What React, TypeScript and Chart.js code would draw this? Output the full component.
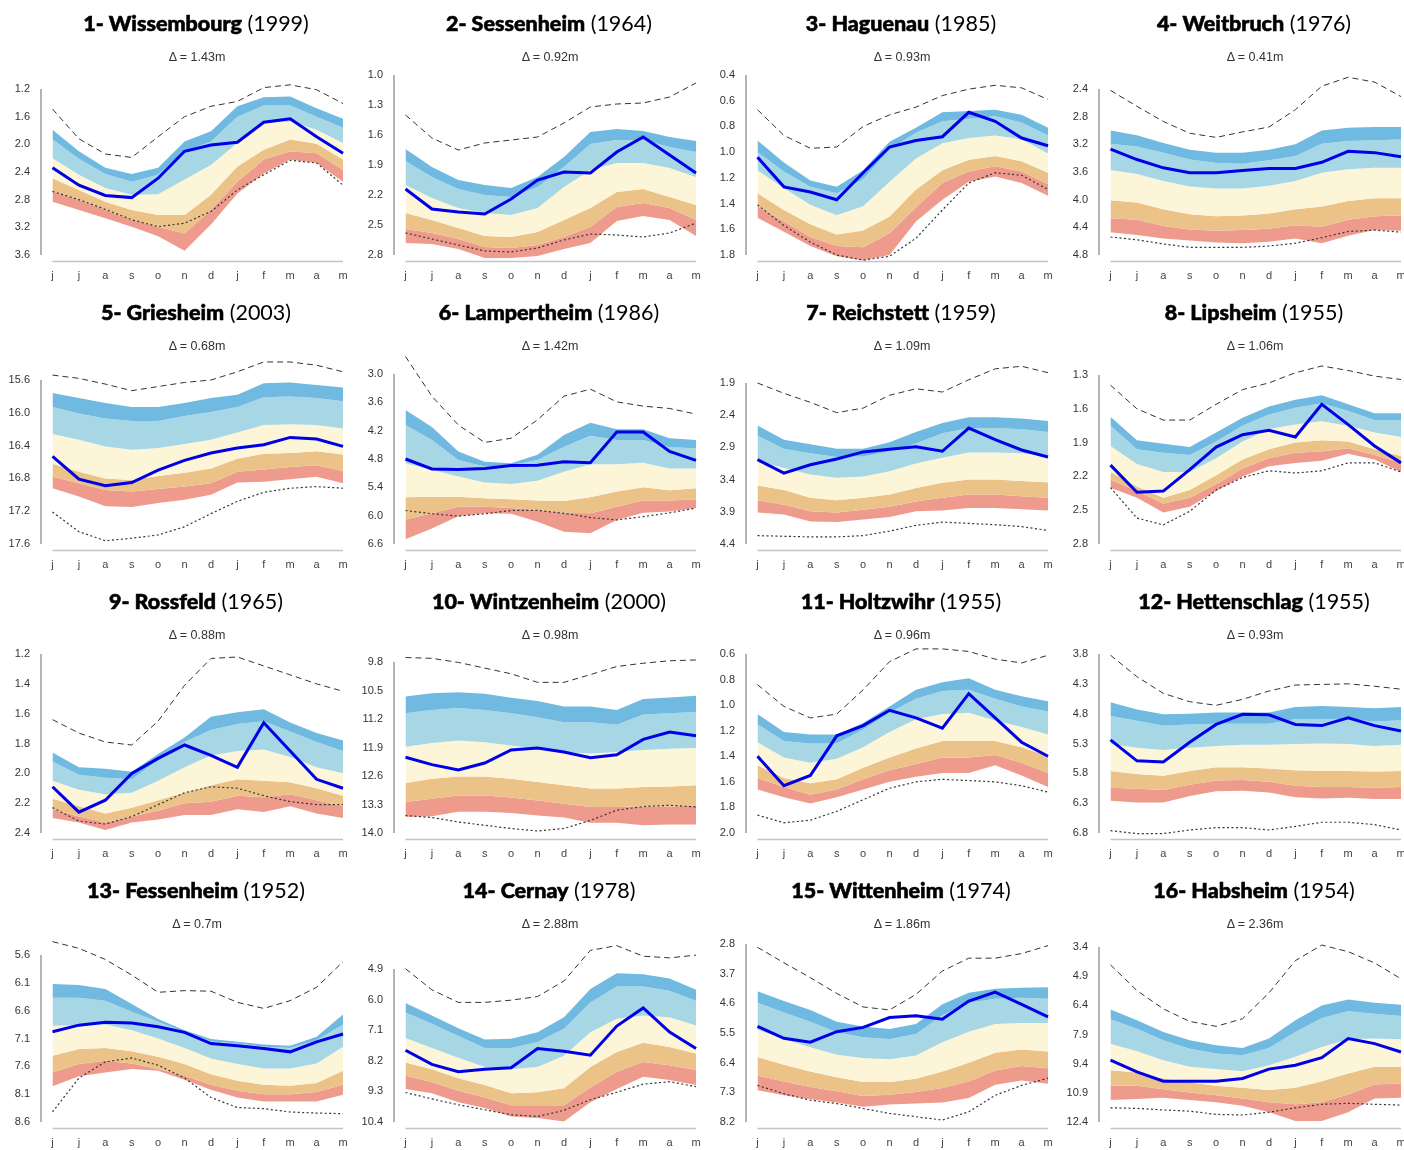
import React, { useEffect, useRef } from "react";
import { Chart, registerables } from "chart.js";

Chart.register(...registerables);

// ---------- labels ----------
const months = ["j", "j", "a", "s", "o", "n", "d", "j", "f", "m", "a", "m"];
const stations = [
  "1- Wissembourg", "2- Sessenheim", "3- Haguenau", "4- Weitbruch",
  "5- Griesheim", "6- Lampertheim", "7- Reichstett", "8- Lipsheim",
  "9- Rossfeld", "10- Wintzenheim", "11- Holtzwihr", "12- Hettenschlag",
  "13- Fessenheim", "14- Cernay", "15- Wittenheim", "16- Habsheim",
];
const years = ["(1999)", "(1964)", "(1985)", "(1976)", "(2003)", "(1986)", "(1959)", "(1955)",
  "(1965)", "(2000)", "(1955)", "(1955)", "(1952)", "(1978)", "(1974)", "(1954)"];
const deltas = ["1.43m", "0.92m", "0.93m", "0.41m", "0.68m", "1.42m", "1.09m", "1.06m",
  "0.88m", "0.98m", "0.96m", "0.93m", "0.7m", "2.88m", "1.86m", "2.36m"];

// ---------- y tick labels (depth, m) ----------
const yFirstTick = [1.2, 1.0, 0.4, 2.4, 15.6, 3.0, 1.9, 1.3, 1.2, 9.8, 0.6, 3.8, 5.6, 4.9, 2.8, 3.4];
const yLastTick = [3.6, 2.8, 1.8, 4.8, 17.6, 6.6, 4.4, 2.8, 2.4, 14.0, 2.0, 6.8, 8.6, 10.4, 8.2, 12.4];
const yTickStep = [0.4, 0.3, 0.2, 0.4, 0.4, 0.6, 0.5, 0.3, 0.2, 0.7, 0.2, 0.5, 0.5, 1.1, 0.9, 1.5];

// ---------- data: bands = 6 boundaries (top -> bottom), line = year, max / min ----------
const wissembourgBands = [
  [1.79, 2.10, 2.34, 2.43, 2.34, 1.96, 1.81, 1.45, 1.32, 1.31, 1.48, 1.63],
  [1.93, 2.21, 2.43, 2.54, 2.44, 2.10, 1.96, 1.60, 1.44, 1.44, 1.60, 1.76],
  [2.20, 2.44, 2.63, 2.73, 2.72, 2.51, 2.30, 1.98, 1.69, 1.67, 1.79, 1.98],
  [2.49, 2.66, 2.83, 2.95, 3.02, 3.02, 2.73, 2.32, 2.08, 1.93, 1.99, 2.22],
  [2.68, 2.80, 2.95, 3.09, 3.19, 3.29, 2.95, 2.54, 2.22, 2.10, 2.13, 2.37],
  [2.83, 2.95, 3.07, 3.19, 3.33, 3.54, 3.16, 2.71, 2.42, 2.22, 2.27, 2.54],
];
const wissembourgLine = [2.34, 2.59, 2.74, 2.77, 2.49, 2.10, 2.01, 1.97, 1.68, 1.63, 1.89, 2.13];
const wissembourgMax = [1.49, 1.92, 2.14, 2.19, 1.89, 1.60, 1.45, 1.38, 1.18, 1.14, 1.21, 1.41];
const wissembourgMin = [2.68, 2.80, 2.94, 3.09, 3.19, 3.14, 2.97, 2.66, 2.44, 2.23, 2.27, 2.59];

const sessenheimBands = [
  [1.74, 1.92, 2.05, 2.10, 2.13, 2.02, 1.82, 1.57, 1.54, 1.56, 1.62, 1.66],
  [1.86, 2.02, 2.14, 2.20, 2.22, 2.12, 1.92, 1.69, 1.65, 1.65, 1.72, 1.77],
  [2.10, 2.23, 2.33, 2.38, 2.40, 2.33, 2.12, 1.95, 1.88, 1.88, 1.93, 2.02],
  [2.38, 2.45, 2.53, 2.61, 2.62, 2.57, 2.45, 2.33, 2.17, 2.14, 2.22, 2.30],
  [2.54, 2.58, 2.64, 2.72, 2.73, 2.70, 2.62, 2.52, 2.32, 2.28, 2.33, 2.45],
  [2.68, 2.69, 2.74, 2.83, 2.83, 2.81, 2.74, 2.68, 2.46, 2.41, 2.45, 2.61],
];
const sessenheimLine = [2.14, 2.34, 2.37, 2.39, 2.24, 2.05, 1.97, 1.98, 1.77, 1.62, 1.80, 1.98];
const sessenheimMax = [1.40, 1.63, 1.75, 1.68, 1.65, 1.62, 1.48, 1.32, 1.29, 1.28, 1.22, 1.08];
const sessenheimMin = [2.58, 2.64, 2.70, 2.76, 2.77, 2.73, 2.65, 2.59, 2.60, 2.62, 2.58, 2.48];

const haguenauBands = [
  [0.91, 1.08, 1.22, 1.27, 1.14, 0.92, 0.81, 0.69, 0.68, 0.67, 0.71, 0.81],
  [1.00, 1.15, 1.27, 1.32, 1.21, 0.98, 0.85, 0.76, 0.74, 0.72, 0.77, 0.87],
  [1.14, 1.28, 1.41, 1.49, 1.42, 1.23, 1.05, 0.93, 0.89, 0.87, 0.90, 1.01],
  [1.32, 1.45, 1.56, 1.64, 1.61, 1.50, 1.29, 1.14, 1.06, 1.03, 1.07, 1.16],
  [1.42, 1.54, 1.66, 1.73, 1.74, 1.63, 1.43, 1.24, 1.15, 1.11, 1.15, 1.25],
  [1.51, 1.62, 1.73, 1.81, 1.84, 1.80, 1.54, 1.37, 1.23, 1.19, 1.24, 1.34],
];
const haguenauLine = [1.04, 1.27, 1.31, 1.37, 1.16, 0.96, 0.91, 0.88, 0.69, 0.76, 0.89, 0.95];
const haguenauMax = [0.67, 0.87, 0.97, 0.96, 0.80, 0.71, 0.65, 0.56, 0.51, 0.48, 0.50, 0.59];
const haguenauMin = [1.41, 1.57, 1.70, 1.80, 1.84, 1.81, 1.67, 1.45, 1.24, 1.16, 1.18, 1.29];

const weitbruchBands = [
  [3.00, 3.07, 3.18, 3.28, 3.32, 3.32, 3.28, 3.20, 3.00, 2.96, 2.95, 2.95],
  [3.19, 3.23, 3.32, 3.42, 3.47, 3.48, 3.43, 3.37, 3.19, 3.15, 3.14, 3.13],
  [3.57, 3.63, 3.73, 3.81, 3.84, 3.84, 3.80, 3.73, 3.61, 3.56, 3.54, 3.54],
  [4.01, 4.04, 4.14, 4.21, 4.24, 4.23, 4.20, 4.14, 4.10, 4.02, 3.98, 3.98],
  [4.27, 4.29, 4.38, 4.43, 4.45, 4.44, 4.42, 4.37, 4.39, 4.29, 4.24, 4.23],
  [4.47, 4.51, 4.56, 4.59, 4.62, 4.63, 4.61, 4.56, 4.63, 4.52, 4.44, 4.45],
];
const weitbruchLine = [3.27, 3.42, 3.54, 3.61, 3.61, 3.58, 3.55, 3.55, 3.46, 3.30, 3.32, 3.38];
const weitbruchMax = [2.42, 2.65, 2.87, 3.04, 3.10, 3.02, 2.95, 2.70, 2.36, 2.23, 2.30, 2.51];
const weitbruchMin = [4.54, 4.58, 4.64, 4.69, 4.69, 4.69, 4.67, 4.63, 4.55, 4.46, 4.44, 4.47];

const griesheimBands = [
  [15.76, 15.82, 15.88, 15.93, 15.93, 15.88, 15.82, 15.78, 15.64, 15.63, 15.66, 15.69],
  [15.93, 16.01, 16.07, 16.10, 16.10, 16.04, 15.99, 15.93, 15.81, 15.80, 15.82, 15.86],
  [16.26, 16.33, 16.41, 16.45, 16.43, 16.38, 16.33, 16.24, 16.15, 16.14, 16.15, 16.19],
  [16.62, 16.72, 16.80, 16.82, 16.77, 16.73, 16.68, 16.56, 16.50, 16.49, 16.47, 16.51],
  [16.78, 16.86, 16.94, 16.96, 16.93, 16.90, 16.86, 16.72, 16.69, 16.66, 16.64, 16.71],
  [16.92, 17.02, 17.14, 17.15, 17.10, 17.06, 17.00, 16.85, 16.84, 16.81, 16.78, 16.86],
];
const griesheimLine = [16.53, 16.81, 16.89, 16.85, 16.70, 16.58, 16.49, 16.43, 16.39, 16.30, 16.32, 16.41];
const griesheimMax = [15.54, 15.58, 15.65, 15.73, 15.68, 15.63, 15.60, 15.50, 15.38, 15.38, 15.42, 15.50];
const griesheimMin = [17.21, 17.45, 17.56, 17.53, 17.49, 17.39, 17.23, 17.08, 16.97, 16.92, 16.90, 16.92];

const lampertheimBands = [
  [3.76, 4.12, 4.64, 4.86, 4.89, 4.71, 4.29, 4.03, 4.17, 4.17, 4.36, 4.40],
  [4.08, 4.40, 4.82, 4.96, 4.93, 4.82, 4.54, 4.31, 4.40, 4.40, 4.55, 4.57],
  [4.89, 5.03, 5.17, 5.30, 5.33, 5.26, 5.07, 4.91, 4.91, 4.88, 5.00, 5.00],
  [5.61, 5.60, 5.60, 5.63, 5.65, 5.68, 5.69, 5.61, 5.49, 5.40, 5.46, 5.42],
  [6.08, 5.95, 5.81, 5.81, 5.84, 5.88, 5.94, 5.95, 5.81, 5.68, 5.68, 5.65],
  [6.50, 6.27, 6.01, 5.95, 5.96, 6.13, 6.34, 6.37, 6.09, 5.94, 5.91, 5.84],
];
const lampertheimLine = [4.80, 5.01, 5.02, 5.00, 4.94, 4.93, 4.86, 4.88, 4.23, 4.23, 4.64, 4.83];
const lampertheimMax = [2.63, 3.47, 4.08, 4.45, 4.36, 3.97, 3.47, 3.32, 3.59, 3.68, 3.73, 3.85];
const lampertheimMin = [5.89, 5.96, 6.01, 5.96, 5.89, 5.89, 5.95, 6.04, 6.09, 6.02, 5.94, 5.84];

const reichstettBands = [
  [2.56, 2.78, 2.85, 2.92, 2.92, 2.82, 2.66, 2.52, 2.43, 2.43, 2.45, 2.49],
  [2.72, 2.92, 2.99, 3.05, 3.04, 2.96, 2.84, 2.68, 2.60, 2.60, 2.62, 2.66],
  [3.11, 3.22, 3.32, 3.37, 3.35, 3.27, 3.15, 3.06, 2.98, 2.98, 2.99, 3.04],
  [3.49, 3.56, 3.68, 3.72, 3.68, 3.63, 3.53, 3.45, 3.40, 3.40, 3.42, 3.44],
  [3.72, 3.79, 3.89, 3.91, 3.87, 3.82, 3.74, 3.68, 3.63, 3.63, 3.66, 3.68],
  [3.91, 3.94, 4.05, 4.06, 4.02, 3.98, 3.89, 3.88, 3.84, 3.84, 3.86, 3.88],
];
const reichstettLine = [3.09, 3.30, 3.17, 3.08, 2.97, 2.93, 2.89, 2.96, 2.60, 2.78, 2.94, 3.05];
const reichstettMax = [1.90, 2.06, 2.20, 2.36, 2.29, 2.09, 1.99, 2.04, 1.85, 1.68, 1.64, 1.74];
const reichstettMin = [4.27, 4.28, 4.29, 4.29, 4.27, 4.20, 4.11, 4.06, 4.08, 4.10, 4.13, 4.19];

const lipsheimBands = [
  [1.67, 1.88, 1.91, 1.94, 1.81, 1.68, 1.58, 1.52, 1.48, 1.56, 1.64, 1.64],
  [1.75, 1.96, 1.99, 2.01, 1.89, 1.75, 1.65, 1.59, 1.55, 1.62, 1.70, 1.70],
  [1.93, 2.09, 2.16, 2.16, 2.04, 1.89, 1.78, 1.74, 1.71, 1.75, 1.81, 1.85],
  [2.16, 2.29, 2.39, 2.32, 2.19, 2.05, 1.96, 1.90, 1.88, 1.89, 1.96, 2.02],
  [2.23, 2.33, 2.44, 2.39, 2.27, 2.13, 2.04, 1.99, 1.98, 1.95, 2.01, 2.08],
  [2.30, 2.39, 2.52, 2.47, 2.33, 2.20, 2.11, 2.08, 2.06, 2.00, 2.05, 2.16],
];
const lipsheimLine = [2.10, 2.34, 2.33, 2.14, 1.94, 1.83, 1.79, 1.85, 1.56, 1.74, 1.93, 2.08];
const lipsheimMax = [1.39, 1.60, 1.70, 1.70, 1.56, 1.43, 1.37, 1.28, 1.22, 1.26, 1.31, 1.34];
const lipsheimMin = [2.30, 2.57, 2.63, 2.51, 2.32, 2.21, 2.15, 2.17, 2.15, 2.08, 2.08, 2.16];

const rossfeldBands = [
  [1.86, 1.96, 1.97, 1.99, 1.87, 1.76, 1.62, 1.59, 1.57, 1.66, 1.73, 1.78],
  [1.92, 2.01, 2.03, 2.04, 1.91, 1.79, 1.71, 1.67, 1.65, 1.72, 1.79, 1.85],
  [2.05, 2.11, 2.14, 2.13, 2.05, 1.96, 1.88, 1.85, 1.84, 1.89, 1.96, 2.00],
  [2.17, 2.22, 2.27, 2.23, 2.18, 2.13, 2.08, 2.04, 2.05, 2.06, 2.10, 2.15],
  [2.24, 2.29, 2.33, 2.29, 2.25, 2.20, 2.19, 2.15, 2.16, 2.14, 2.18, 2.22],
  [2.30, 2.33, 2.38, 2.33, 2.31, 2.28, 2.28, 2.24, 2.26, 2.22, 2.27, 2.30],
];
const rossfeldLine = [2.09, 2.26, 2.18, 2.00, 1.90, 1.81, 1.88, 1.96, 1.66, 1.85, 2.04, 2.10];
const rossfeldMax = [1.64, 1.73, 1.79, 1.81, 1.65, 1.41, 1.23, 1.22, 1.28, 1.34, 1.40, 1.45];
const rossfeldMin = [2.23, 2.32, 2.34, 2.29, 2.21, 2.13, 2.09, 2.10, 2.15, 2.19, 2.21, 2.21];

const wintzenheimBands = [
  [10.65, 10.57, 10.54, 10.58, 10.68, 10.76, 10.89, 10.89, 10.98, 10.71, 10.67, 10.63],
  [11.06, 10.98, 10.93, 10.98, 11.06, 11.16, 11.28, 11.28, 11.34, 11.09, 11.06, 11.03],
  [11.88, 11.79, 11.73, 11.77, 11.85, 11.93, 12.01, 12.05, 12.01, 11.96, 11.93, 11.91],
  [12.77, 12.67, 12.61, 12.61, 12.67, 12.75, 12.83, 12.91, 12.91, 12.87, 12.86, 12.83],
  [13.24, 13.16, 13.08, 13.08, 13.13, 13.20, 13.28, 13.36, 13.36, 13.35, 13.35, 13.33],
  [13.61, 13.59, 13.48, 13.48, 13.51, 13.57, 13.62, 13.75, 13.75, 13.81, 13.79, 13.79],
];
const wintzenheimLine = [12.14, 12.32, 12.45, 12.28, 11.96, 11.91, 12.01, 12.15, 12.08, 11.70, 11.52, 11.61];
const wintzenheimMax = [9.69, 9.71, 9.81, 9.95, 10.09, 10.30, 10.30, 10.11, 9.91, 9.83, 9.77, 9.75];
const wintzenheimMin = [13.57, 13.62, 13.73, 13.81, 13.89, 13.95, 13.89, 13.69, 13.44, 13.35, 13.32, 13.36];

const holtzwihrBands = [
  [1.07, 1.21, 1.23, 1.23, 1.14, 1.01, 0.88, 0.82, 0.79, 0.88, 0.93, 0.97],
  [1.15, 1.28, 1.30, 1.30, 1.19, 1.06, 0.95, 0.89, 0.88, 0.95, 1.01, 1.05],
  [1.29, 1.41, 1.45, 1.42, 1.33, 1.21, 1.11, 1.07, 1.06, 1.12, 1.17, 1.23],
  [1.47, 1.57, 1.61, 1.58, 1.49, 1.41, 1.34, 1.28, 1.28, 1.28, 1.33, 1.40],
  [1.57, 1.64, 1.70, 1.66, 1.58, 1.51, 1.46, 1.41, 1.41, 1.39, 1.45, 1.53],
  [1.66, 1.72, 1.77, 1.72, 1.66, 1.60, 1.56, 1.53, 1.53, 1.47, 1.55, 1.64],
];
const holtzwihrLine = [1.40, 1.63, 1.55, 1.24, 1.16, 1.04, 1.10, 1.18, 0.91, 1.10, 1.29, 1.40];
const holtzwihrMax = [0.84, 1.01, 1.10, 1.07, 0.88, 0.66, 0.56, 0.56, 0.58, 0.64, 0.67, 0.61];
const holtzwihrMin = [1.86, 1.92, 1.90, 1.83, 1.74, 1.65, 1.60, 1.58, 1.59, 1.60, 1.63, 1.68];

const hettenschlagBands = [
  [4.61, 4.73, 4.81, 4.80, 4.78, 4.78, 4.78, 4.69, 4.67, 4.69, 4.71, 4.69],
  [4.84, 4.92, 5.00, 4.98, 4.97, 4.97, 4.97, 4.89, 4.89, 4.89, 4.93, 4.91],
  [5.31, 5.37, 5.41, 5.37, 5.34, 5.32, 5.32, 5.31, 5.30, 5.31, 5.34, 5.32],
  [5.76, 5.81, 5.84, 5.76, 5.70, 5.70, 5.72, 5.75, 5.76, 5.76, 5.77, 5.76],
  [6.04, 6.06, 6.08, 5.99, 5.92, 5.91, 5.94, 6.01, 6.03, 6.03, 6.04, 6.03],
  [6.26, 6.29, 6.29, 6.18, 6.10, 6.09, 6.12, 6.20, 6.22, 6.21, 6.23, 6.23],
];
const hettenschlagLine = [5.24, 5.59, 5.61, 5.28, 4.98, 4.81, 4.82, 4.98, 5.00, 4.87, 5.00, 5.09];
const hettenschlagMax = [3.82, 4.18, 4.46, 4.60, 4.66, 4.56, 4.42, 4.32, 4.31, 4.30, 4.34, 4.39];
const hettenschlagMin = [6.76, 6.81, 6.81, 6.75, 6.71, 6.71, 6.75, 6.69, 6.62, 6.62, 6.66, 6.75];

const fessenheimBands = [
  [6.12, 6.14, 6.21, 6.48, 6.75, 6.95, 7.11, 7.16, 7.21, 7.23, 7.07, 6.67],
  [6.37, 6.37, 6.42, 6.62, 6.80, 6.98, 7.15, 7.19, 7.25, 7.27, 7.13, 6.85],
  [6.87, 6.86, 6.85, 6.95, 7.10, 7.27, 7.46, 7.56, 7.64, 7.64, 7.55, 7.25],
  [7.41, 7.29, 7.27, 7.33, 7.43, 7.56, 7.74, 7.86, 7.93, 7.95, 7.90, 7.68],
  [7.71, 7.56, 7.50, 7.55, 7.65, 7.77, 7.93, 8.04, 8.10, 8.10, 8.06, 7.93],
  [7.96, 7.78, 7.71, 7.65, 7.68, 7.84, 8.02, 8.16, 8.23, 8.23, 8.23, 8.11],
];
const fessenheimLine = [6.98, 6.86, 6.81, 6.82, 6.89, 6.99, 7.19, 7.23, 7.28, 7.34, 7.16, 7.02];
const fessenheimMax = [5.36, 5.48, 5.68, 5.96, 6.27, 6.24, 6.25, 6.45, 6.56, 6.42, 6.18, 5.72];
const fessenheimMin = [8.42, 7.81, 7.52, 7.45, 7.58, 7.81, 8.16, 8.34, 8.36, 8.42, 8.44, 8.45];

const cernayBands = [
  [6.12, 6.57, 7.03, 7.43, 7.41, 7.17, 6.63, 5.62, 5.05, 5.09, 5.24, 5.65],
  [6.46, 6.87, 7.31, 7.74, 7.74, 7.52, 7.05, 6.10, 5.53, 5.53, 5.68, 6.04],
  [7.38, 7.74, 8.09, 8.42, 8.50, 8.42, 8.02, 7.17, 6.69, 6.57, 6.63, 6.93],
  [8.26, 8.50, 8.83, 9.07, 9.37, 9.33, 9.19, 8.42, 7.88, 7.55, 7.70, 7.94],
  [8.74, 8.97, 9.28, 9.52, 9.80, 9.80, 9.80, 9.16, 8.59, 8.24, 8.36, 8.53],
  [9.21, 9.37, 9.69, 9.90, 10.20, 10.26, 10.38, 9.69, 9.21, 8.77, 8.89, 9.07],
];
const cernayLine = [7.82, 8.33, 8.59, 8.50, 8.45, 7.76, 7.86, 8.00, 6.95, 6.30, 7.17, 7.76];
const cernayMax = [4.89, 5.65, 6.10, 6.10, 6.02, 5.89, 5.33, 4.23, 4.06, 4.44, 4.50, 4.40];
const cernayMin = [9.34, 9.57, 9.78, 9.96, 10.14, 10.20, 9.98, 9.60, 9.33, 9.04, 8.95, 9.13];

const wittenheimBands = [
  [4.23, 4.53, 4.80, 5.16, 5.30, 5.38, 5.23, 4.63, 4.28, 4.16, 4.13, 4.11],
  [4.58, 4.88, 5.16, 5.48, 5.63, 5.68, 5.53, 4.96, 4.58, 4.46, 4.43, 4.46],
  [5.40, 5.68, 5.93, 6.16, 6.26, 6.30, 6.18, 5.78, 5.46, 5.23, 5.20, 5.20],
  [6.23, 6.46, 6.67, 6.84, 6.99, 6.99, 6.89, 6.67, 6.40, 6.10, 6.00, 6.06],
  [6.79, 6.97, 7.14, 7.27, 7.41, 7.37, 7.29, 7.17, 6.97, 6.64, 6.50, 6.57],
  [7.24, 7.39, 7.51, 7.61, 7.74, 7.67, 7.64, 7.61, 7.47, 7.07, 6.94, 7.04],
];
const wittenheimLine = [5.30, 5.66, 5.78, 5.46, 5.33, 5.03, 4.98, 5.08, 4.53, 4.26, 4.63, 5.01];
const wittenheimMax = [2.90, 3.37, 3.82, 4.30, 4.71, 4.80, 4.33, 3.62, 3.23, 3.23, 3.09, 2.85];
const wittenheimMin = [7.09, 7.34, 7.54, 7.64, 7.79, 7.94, 8.04, 8.14, 7.89, 7.39, 7.09, 6.87];

const habsheimBands = [
  [6.61, 7.17, 7.77, 8.20, 8.45, 8.59, 8.11, 7.17, 6.41, 6.10, 6.27, 6.37],
  [7.12, 7.60, 8.20, 8.63, 8.88, 8.97, 8.59, 7.77, 7.05, 6.71, 6.83, 6.95],
  [8.37, 8.76, 9.22, 9.56, 9.68, 9.79, 9.48, 9.05, 8.54, 8.15, 8.11, 8.15],
  [9.74, 9.85, 10.16, 10.37, 10.54, 10.64, 10.76, 10.64, 10.30, 9.91, 9.56, 9.56],
  [10.54, 10.54, 10.71, 10.88, 11.02, 11.19, 11.39, 11.49, 11.39, 10.98, 10.47, 10.42],
  [11.27, 11.22, 11.15, 11.27, 11.39, 11.56, 11.90, 12.35, 12.35, 11.90, 11.19, 11.15],
];
const habsheimLine = [9.22, 9.82, 10.30, 10.30, 10.30, 10.16, 9.68, 9.48, 9.09, 8.11, 8.37, 8.80];
const habsheimMax = [4.32, 5.64, 6.58, 7.23, 7.48, 7.09, 5.76, 4.10, 3.30, 3.64, 4.22, 5.04];
const habsheimMin = [11.67, 11.70, 11.78, 11.84, 12.01, 12.04, 11.90, 11.67, 11.49, 11.44, 11.49, 11.53];

const allBands = [wissembourgBands, sessenheimBands, haguenauBands, weitbruchBands,
  griesheimBands, lampertheimBands, reichstettBands, lipsheimBands,
  rossfeldBands, wintzenheimBands, holtzwihrBands, hettenschlagBands,
  fessenheimBands, cernayBands, wittenheimBands, habsheimBands];
const allLines = [wissembourgLine, sessenheimLine, haguenauLine, weitbruchLine,
  griesheimLine, lampertheimLine, reichstettLine, lipsheimLine,
  rossfeldLine, wintzenheimLine, holtzwihrLine, hettenschlagLine,
  fessenheimLine, cernayLine, wittenheimLine, habsheimLine];
const allMax = [wissembourgMax, sessenheimMax, haguenauMax, weitbruchMax,
  griesheimMax, lampertheimMax, reichstettMax, lipsheimMax,
  rossfeldMax, wintzenheimMax, holtzwihrMax, hettenschlagMax,
  fessenheimMax, cernayMax, wittenheimMax, habsheimMax];
const allMin = [wissembourgMin, sessenheimMin, haguenauMin, weitbruchMin,
  griesheimMin, lampertheimMin, reichstettMin, lipsheimMin,
  rossfeldMin, wintzenheimMin, holtzwihrMin, hettenschlagMin,
  fessenheimMin, cernayMin, wittenheimMin, habsheimMin];

// ---------- styles / layout ----------
const BAND_COLORS = ["#70bae1", "#a7d7e5", "#fdf5d8", "#ebc389", "#ee9b8e"];
const LINE_BLUE = "#0000e8";
const PLOT_TOPS = [89, 75, 75, 89, 91, 85, 94, 86, 76, 84, 76, 76, 88, 102, 77, 80];
const ROW_TOPS = [0, 289, 578, 867];
const PANEL_W = 353;
const PLOT_BOTTOM = 255;
const AXIS_LEFT = 40;
const PLOT_RIGHT = 343;
const FIRST_X = 52.5;
const EXT = 10;
const TICK_FONT = "'Liberation Sans', Arial, sans-serif";

function Panel({ i }: { i: number }) {
  const ref = useRef<HTMLCanvasElement | null>(null);
  const col = i % 4;
  const row = Math.floor(i / 4);
  const left = Math.round(col * 352.7);
  const top = ROW_TOPS[row];
  const h = row === 3 ? 283 : 289;

  useEffect(() => {
    if (!ref.current) return;
    const first = yFirstTick[i];
    const last = yLastTick[i];
    const step = yTickStep[i];
    const plotTop = PLOT_TOPS[i];
    const ppu = (PLOT_BOTTOM - plotTop) / (last - first);
    const n = Math.round((last - first) / step);
    const tickVals: number[] = [];
    for (let k = 0; k <= n; k++) tickVals.push(Math.round((first + k * step) * 100) / 100);
    const unit = (PLOT_RIGHT - FIRST_X) / 11;
    const xMin = -(FIRST_X - AXIS_LEFT) / unit;
    const xH = h - (PLOT_BOTTOM + EXT) - 2;

    const pts = (arr: number[]) => arr.map((y, x) => ({ x, y }));
    const common = { pointRadius: 0, pointHoverRadius: 0, tension: 0, clip: false as any };
    const bands = allBands[i];
    const datasets: any[] = [
      { ...common, data: pts(allLines[i]), borderColor: LINE_BLUE, borderWidth: 3, fill: false },
      { ...common, data: pts(allMax[i]), borderColor: "#333", borderWidth: 1, borderDash: [6, 4], fill: false },
      { ...common, data: pts(allMin[i]), borderColor: "#333", borderWidth: 1.2, borderDash: [2, 2.5], fill: false },
      ...bands.map((b, k) => ({
        ...common,
        data: pts(b),
        borderWidth: 0,
        borderColor: "rgba(0,0,0,0)",
        backgroundColor: k ? BAND_COLORS[k - 1] : "rgba(0,0,0,0)",
        fill: k ? 3 + k - 1 : false,
      })),
    ];

    const axisLines = {
      id: "axisLines",
      beforeDatasetsDraw(chart: any) {
        const { ctx } = chart;
        const ys = chart.scales.y;
        const xs = chart.scales.x;
        const yTop = ys.getPixelForValue(first);
        const yBot = ys.getPixelForValue(last);
        ctx.save();
        ctx.strokeStyle = "#b4b4b4";
        ctx.lineWidth = 2;
        ctx.beginPath();
        ctx.moveTo(chart.chartArea.left + 1, yTop);
        ctx.lineTo(chart.chartArea.left + 1, yBot);
        ctx.stroke();
        ctx.strokeStyle = "#c4c4c4";
        ctx.lineWidth = 1.5;
        ctx.beginPath();
        ctx.moveTo(xs.getPixelForValue(0), yBot + 6.5);
        ctx.lineTo(xs.getPixelForValue(11), yBot + 6.5);
        ctx.stroke();
        ctx.restore();
      },
    };

    const chart = new Chart(ref.current, {
      type: "line",
      data: { datasets },
      options: {
        responsive: false,
        animation: false,
        events: [],
        devicePixelRatio: 1,
        layout: {
          padding: { left: 0, right: PANEL_W - PLOT_RIGHT, top: plotTop - EXT, bottom: 2 },
        },
        plugins: { legend: { display: false }, tooltip: { enabled: false }, title: { display: false } },
        scales: {
          x: {
            type: "linear",
            min: xMin,
            max: 11,
            grid: { display: false, drawTicks: false },
            border: { display: false },
            afterBuildTicks: (s: any) => {
              s.ticks = months.map((_, k) => ({ value: k }));
            },
            afterFit: (s: any) => {
              s.height = xH;
            },
            ticks: {
              autoSkip: false,
              maxRotation: 0,
              padding: 4,
              color: "#444",
              font: { size: 11, family: TICK_FONT },
              callback: (_v: any, idx: number) => months[idx],
            },
          },
          y: {
            type: "linear",
            reverse: true,
            min: first - EXT / ppu,
            max: last + EXT / ppu,
            grid: { display: false, drawTicks: false },
            border: { display: false },
            afterBuildTicks: (s: any) => {
              s.ticks = tickVals.map((value) => ({ value }));
            },
            afterFit: (s: any) => {
              s.width = AXIS_LEFT;
            },
            ticks: {
              padding: 10,
              color: "#333",
              font: { size: 11, family: TICK_FONT },
              callback: (v: any) => Number(v).toFixed(1),
            },
          },
        },
      } as any,
      plugins: [axisLines],
    });
    return () => chart.destroy();
  }, [i, h]);

  return (
    <div style={{ position: "absolute", left, top, width: PANEL_W, height: h }}>
      <canvas
        ref={ref}
        width={PANEL_W}
        height={h}
        style={{ position: "absolute", left: 0, top: 0, width: PANEL_W, height: h }}
      />
      <div
        style={{
          position: "absolute",
          left: 196,
          top: 11.5,
          transform: "translateX(-50%)",
          whiteSpace: "nowrap",
          fontFamily: "Lato, 'Noto Sans', sans-serif",
          fontSize: 21.5,
          lineHeight: "22px",
          color: "#000",
        }}
      >
        <span style={{ fontWeight: 900, WebkitTextStroke: "0.6px #000" } as any}>{stations[i]}</span>{" "}
        <span style={{ fontWeight: 400 }}>{years[i]}</span>
      </div>
      <div
        style={{
          position: "absolute",
          left: 197,
          top: 51,
          transform: "translateX(-50%)",
          whiteSpace: "nowrap",
          fontFamily: TICK_FONT,
          fontSize: 12.5,
          lineHeight: "13px",
          color: "#333",
        }}
      >
        {"\u0394 = " + deltas[i]}
      </div>
    </div>
  );
}

export default function App() {
  return (
    <div
      style={{
        position: "fixed",
        left: 0,
        top: 0,
        width: 1404,
        height: 1150,
        overflow: "hidden",
        background: "#fff",
      }}
    >
      {stations.map((_, i) => (
        <Panel key={i} i={i} />
      ))}
    </div>
  );
}
